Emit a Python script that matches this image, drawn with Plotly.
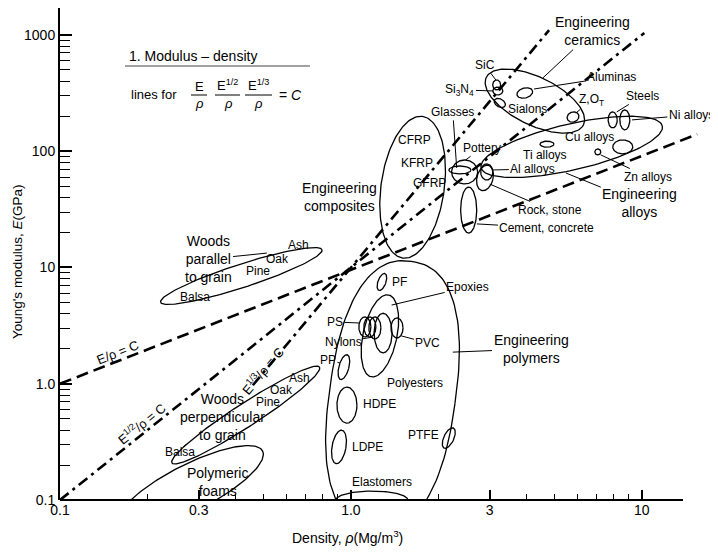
import numpy as np
import plotly.graph_objects as go

# ---------------- data ----------------
# material envelopes: centre density (Mg/m3), centre modulus (GPa),
# semi-axes in decades, tilt (deg), squareness (2 = ellipse)
bubble_names = ['Woods parallel', 'Woods perpendicular', 'Polymeric foams',
                'Engineering polymers', 'Engineering composites', 'Engineering ceramics',
                'Engineering alloys', 'Elastomers',
                'PF', 'Epoxies', 'PS', 'Nylon a', 'Nylon b', 'Nylon c', 'PVC', 'PP',
                'HDPE', 'LDPE', 'PTFE',
                'SiC', 'Si3N4', 'Sialons', 'Aluminas', 'ZrO2',
                'Steels', 'Ni alloys', 'Cu alloys', 'Ti alloys', 'Zn alloys', 'Al alloys',
                'Pottery', 'Glasses', 'Rock', 'Cement']
bubble_rho = [0.42, 0.435, 0.28, 1.39, 1.63, 4.29, 5.74, 1.18,
              1.278, 1.258, 1.117, 1.162, 1.209, 1.29, 1.44, 0.946,
              0.969, 0.91, 2.17,
              3.17, 3.2, 3.25, 3.96, 5.8,
              7.94, 8.74, 8.6, 4.72, 7.06, 2.93,
              2.46, 2.37, 2.89, 2.54]
bubble_E = [8.45, 0.538, 0.127, 0.80, 49, 270, 109, 0.1,
            7.5, 2.58, 3.08, 3.08, 3.02, 2.73, 3.02, 1.39,
            0.655, 0.286, 0.341,
            372, 330, 260, 317, 197,
            186, 186, 109, 115, 98.6, 66.3,
            66.3, 69, 58.9, 31.2]
bubble_a = [0.73, 0.757, 0.70, 0.542, 0.272, 0.465, 0.80, 0.31,
            0.034, 0.146, 0.052, 0.052, 0.052, 0.077, 0.052, 0.043,
            0.086, 0.06, 0.043,
            0.034, 0.043, 0.052, 0.069, 0.052,
            0.039, 0.043, 0.086, 0.06, 0.026, 0.052,
            0.112, 0.095, 0.069, 0.069]
bubble_b = [0.10, 0.10, 0.20, 1.16, 0.615, 0.206, 0.198, 0.077,
            0.077, 0.36, 0.086, 0.086, 0.095, 0.17, 0.086, 0.11,
            0.155, 0.146, 0.095,
            0.043, 0.034, 0.034, 0.043, 0.043,
            0.069, 0.086, 0.06, 0.026, 0.026, 0.069,
            0.103, 0.034, 0.112, 0.198]
bubble_tilt = [18, 33, 27, -8, -8, -26, 13, 0,
               -20, -12, 0, 0, 0, 0, 0, -15,
               0, -10, -25,
               0, 0, -30, 15, 20,
               0, 0, 0, 0, 0, 0,
               0, 0, -15, 0]
bubble_sq = [2, 2, 2, 2.4, 2, 2, 2, 2] + [2] * 26

# guide lines (end points)
line1_rho = [0.1, 15.5]    # E/rho = C
line1_E = [1.0, 140]
line2_rho = [0.1, 10.2]    # E^1/2/rho = C
line2_E = [0.1, 1040]
line3_rho = [0.46, 4.8]    # E^1/3/rho = C
line3_E = [0.97, 1100]

# labels: text, position (rho, E), leader end (rho, E) or None
label_text = ['Woods<br>parallel<br>to grain', 'Ash', 'Oak', 'Pine', 'Balsa',
              'Woods<br>perpendicular<br>to grain', 'Ash', 'Oak', 'Pine', 'Balsa',
              'Polymeric<br>foams', 'Engineering<br>composites', 'CFRP', 'KFRP', 'GFRP',
              'Engineering<br>ceramics', 'SiC', 'Si<sub>3</sub>N<sub>4</sub>', 'Sialons', 'Aluminas',
              'Z,O<sub>T</sub>', 'Steels', 'Ni alloys', 'Cu alloys', 'Ti alloys', 'Zn alloys',
              'Al alloys', 'Pottery', 'Glasses', 'Rock, stone', 'Cement, concrete',
              'Engineering<br>alloys', 'PF', 'Epoxies', 'PS', 'Nylons', 'PVC',
              'Engineering<br>polymers', 'PP', 'Polyesters', 'HDPE', 'LDPE', 'PTFE', 'Elastomers']
label_rho = [0.323, 0.658, 0.561, 0.479, 0.291,
             0.361, 0.668, 0.579, 0.519, 0.258,
             0.347, 0.916, 1.66, 1.69, 1.87,
             6.79, 2.88, 2.37, 4.06, 7.89,
             6.73, 10.07, 14.8, 6.62, 4.64, 10.5,
             4.22, 2.82, 2.24, 4.83, 4.72,
             9.84, 1.47, 2.52, 0.881, 0.94, 1.84,
             4.16, 0.834, 1.66, 1.25, 1.14, 1.77, 1.28]
label_E = [11.8, 15.6, 11.8, 9.33, 5.57,
           0.518, 1.12, 0.883, 0.697, 0.259,
           0.143, 40.4, 125, 79.3, 53.3,
           1081, 552, 337, 231, 436,
           276, 299, 205, 133, 92.9, 60,
           70.3, 107, 218, 31.3, 21.9,
           35.9, 7.5, 6.79, 3.4, 2.29, 2.24,
           1.99, 1.6, 1.01, 0.67, 0.286, 0.362, 0.143]
leader_rho = [0.514, None, None, None, None,
              0.265, None, None, None, None,
              None, None, None, None, None,
              4.57, 3.15, 3.08, None, 4.26,
              5.93, 8.2, 9.25, None, None, 7.23,
              3.08, 2.48, 2.31, 3.0, 2.71,
              5.48, None, 1.38, 1.07, 1.19, 1.49,
              2.24, 0.916, None, None, None, None, None]
leader_E = [13.3, None, None, None, None,
            0.286, None, None, None, None,
            None, None, None, None, None,
            427, 410, 330, None, 343,
            213, 218, 186, None, None, 92.9,
            69, 84.1, 71.8, 52.2, 23.7,
            65, None, 4.75, 3.33, 2.52, 2.58,
            1.87, 1.51, None, None, None, None, None]

x_ticks = [0.1, 0.3, 1.0, 3, 10]
x_ticktext = ['0.1', '0.3', '1.0', '3', '10']
x_minor = [0.2, 0.4, 0.5, 0.6, 0.7, 0.8, 0.9, 2, 4, 5, 6, 7, 8, 9]
y_ticks = [0.1, 1, 10, 100, 1000]
y_ticktext = ['0.1', '1.0', '10', '100', '1000']
y_minor = [m * d for d in [0.1, 1, 10, 100] for m in range(2, 10)]

# ---------------- layout geometry ----------------
# page body has an 8px margin, so the figure is made 8px smaller
OFF = 8
W, H = 710, 544
ML, MR, MT, MB = 52, 18, 0, 52
XR = [-1, 1.2]
YR = [-1, 3.232]
pw, ph = W - ML - MR, H - MT - MB
k = (pw / (XR[1] - XR[0])) / (ph / (YR[1] - YR[0]))

FONT = 'Liberation Sans, Arial, sans-serif'


def blob(rho, E, a, b, tilt, n):
    t = np.linspace(0, 2 * np.pi, 161)
    c, s = np.cos(t), np.sin(t)
    p = 2.0 / n
    x = a * np.sign(c) * np.abs(c) ** p
    y = b * np.sign(s) * np.abs(s) ** p
    th = np.radians(tilt)
    xr = x * np.cos(th) - y * np.sin(th)
    yr = x * np.sin(th) + y * np.cos(th)
    return 10 ** (np.log10(rho) + xr / k), 10 ** (np.log10(E) + yr)


# page pixel -> paper fraction (used for the title block only)
def px(xp):
    return (xp - OFF - ML) / pw


def py(yp):
    return (OFF + MT + ph - yp) / ph


bx, by = [], []
for i in range(len(bubble_names)):
    x, y = blob(bubble_rho[i], bubble_E[i], bubble_a[i], bubble_b[i], bubble_tilt[i], bubble_sq[i])
    bx += list(x) + [None]
    by += list(y) + [None]

fig = go.Figure()
fig.add_trace(go.Scatter(x=bx, y=by, mode='lines', line=dict(color='black', width=1.3),
                         hoverinfo='skip', showlegend=False))
fig.add_trace(go.Scatter(x=line1_rho, y=line1_E, mode='lines',
                         line=dict(color='black', width=2.6, dash='12px,6px'), showlegend=False))
fig.add_trace(go.Scatter(x=line2_rho, y=line2_E, mode='lines',
                         line=dict(color='black', width=2.6, dash='11px,5px,3px,5px'), showlegend=False))
fig.add_trace(go.Scatter(x=line3_rho, y=line3_E, mode='lines',
                         line=dict(color='black', width=2.6, dash='11px,5px,3px,5px'), showlegend=False))

annots = []
for i, txt in enumerate(label_text):
    big = txt.startswith('Engineering') or txt.startswith('Woods') or txt.startswith('Polymeric')
    size = 14 if big else 12
    base = dict(text=txt, font=dict(size=size), xanchor='center', yanchor='middle')
    if leader_rho[i] is None:
        base.update(x=np.log10(label_rho[i]), y=np.log10(label_E[i]), showarrow=False)
    else:
        base.update(x=np.log10(leader_rho[i]), y=np.log10(leader_E[i]),
                    ax=np.log10(label_rho[i]), ay=np.log10(label_E[i]),
                    axref='x', ayref='y', showarrow=True,
                    arrowhead=0, arrowwidth=1, arrowcolor='black', standoff=0)
    annots.append(base)

# rotated guide-line labels
annots.append(dict(x=np.log10(0.158), y=np.log10(1.84), text='E/ρ = C', textangle=-22,
                   showarrow=False, font=dict(size=13)))
annots.append(dict(x=np.log10(0.191), y=np.log10(0.459), text='E<sup>1/2</sup>/ρ = C', textangle=-39,
                   showarrow=False, font=dict(size=13)))
annots.append(dict(x=np.log10(0.498), y=np.log10(1.31), text='E<sup>1/3</sup>/ρ = C', textangle=-50,
                   showarrow=False, font=dict(size=13)))


def ptext(xp, yp, txt, size=13, angle=0):
    return dict(xref='paper', yref='paper', x=px(xp), y=py(yp), text=txt, showarrow=False,
                xanchor='center', yanchor='middle', textangle=angle, font=dict(size=size))


annots += [
    ptext(193, 56, '1. Modulus – density', 14),
    ptext(154, 94, 'lines for'),
    ptext(199, 86, 'E'),
    ptext(199, 104, '<i>ρ</i>'),
    ptext(227, 85, 'E<sup>1/2</sup>'),
    ptext(228, 104, '<i>ρ</i>'),
    ptext(258, 85, 'E<sup>1/3</sup>'),
    ptext(258, 104, '<i>ρ</i>'),
    ptext(290, 95, '= <i>C</i>', 14),
    ptext(347, 537, 'Density, <i>ρ</i>(Mg/m<sup>3</sup>)', 14),
    ptext(17, 262, "Young's modulus, <i>E</i>(GPa)", 13.5, -90),
]


def pline(x0, x1, yp, color='black', width=1):
    return dict(type='line', xref='paper', yref='paper', x0=px(x0), x1=px(x1), y0=py(yp), y1=py(yp),
                line=dict(color=color, width=width))


shapes = [
    pline(125, 310, 66, '#444'),
    pline(191, 207, 95),
    pline(215, 240, 95),
    pline(245, 272, 95),
    # x axis baseline stops short of the right edge, as in the original
    dict(type='line', xref='paper', yref='paper', x0=0, x1=px(683), y0=0, y1=0,
         line=dict(color='black', width=2)),
]

fig.update_layout(
    width=W, height=H,
    margin=dict(l=ML, r=MR, t=MT, b=MB),
    plot_bgcolor='white', paper_bgcolor='white',
    font=dict(family=FONT, color='black', size=12),
    showlegend=False,
    annotations=annots,
    shapes=shapes,
    xaxis=dict(type='log', range=XR, showgrid=False, zeroline=False, showline=False,
               tickmode='array', tickvals=x_ticks, ticktext=x_ticktext,
               ticks='inside', ticklen=10, tickwidth=1.5, tickcolor='black',
               tickfont=dict(size=14), automargin=False,
               minor=dict(tickmode='array', tickvals=x_minor, ticks='inside', ticklen=6,
                          tickwidth=1.3, tickcolor='black', showgrid=False)),
    yaxis=dict(type='log', range=YR, showgrid=False, zeroline=False, showline=True,
               linecolor='black', linewidth=2, automargin=False,
               tickmode='array', tickvals=y_ticks, ticktext=y_ticktext,
               ticks='inside', ticklen=12, tickwidth=1.5, tickcolor='black',
               tickfont=dict(size=14),
               minor=dict(tickmode='array', tickvals=y_minor, ticks='inside', ticklen=10,
                          tickwidth=1.3, tickcolor='black', showgrid=False)),
)

fig.write_html('out.html')
